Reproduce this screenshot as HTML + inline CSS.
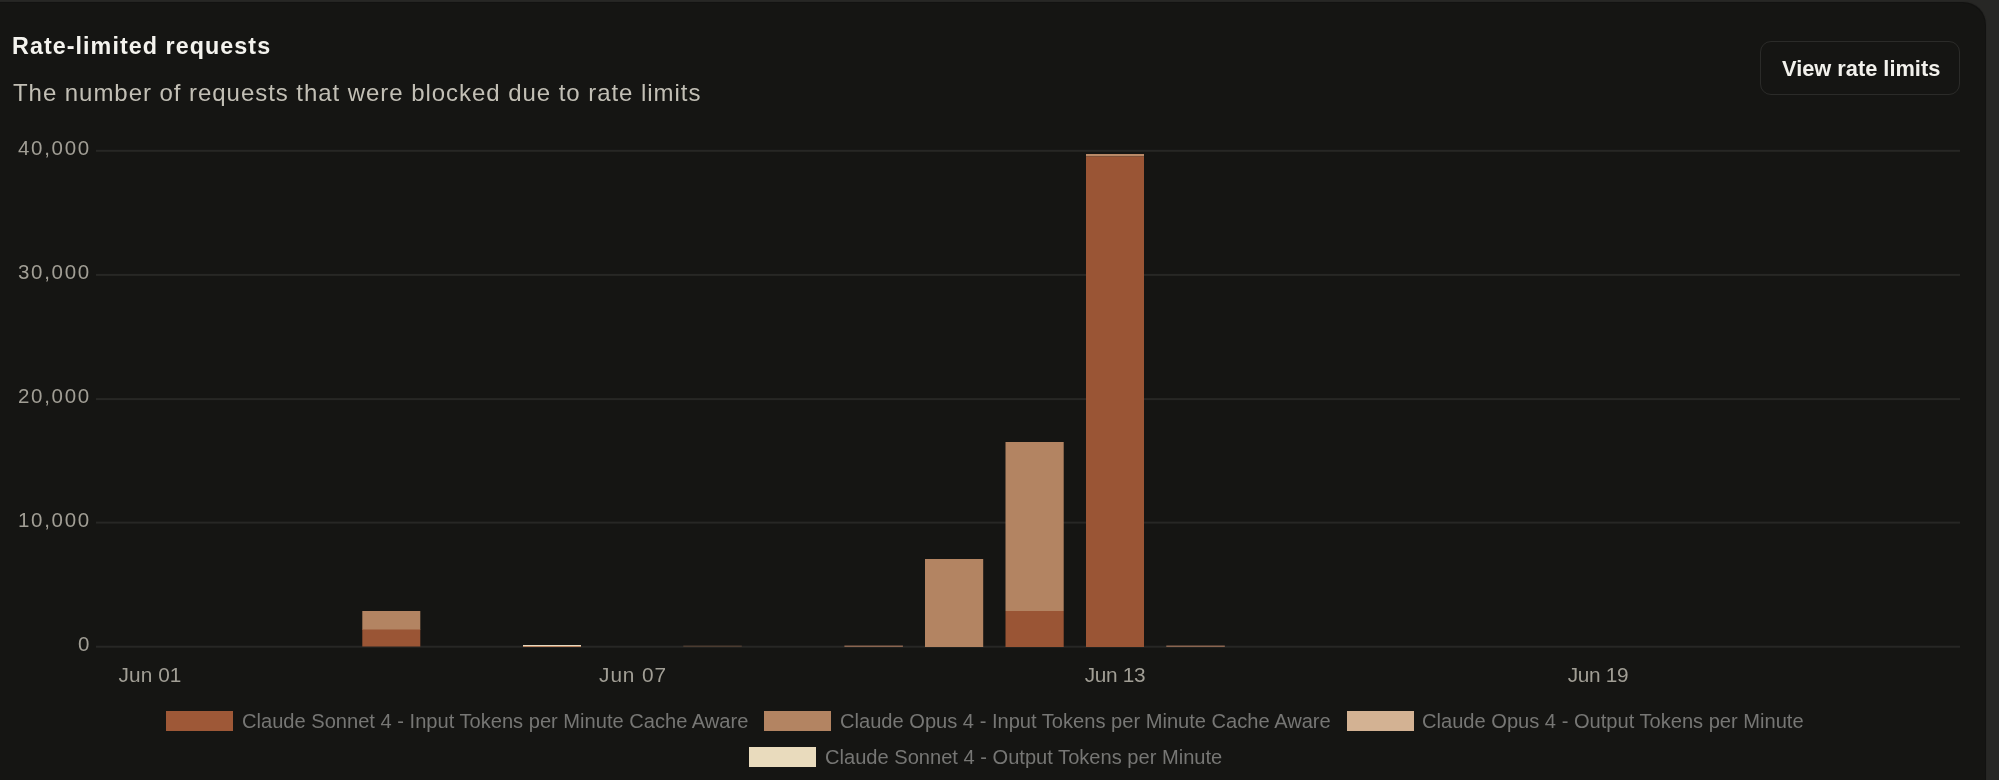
<!DOCTYPE html>
<html><head><meta charset="utf-8">
<style>
html,body{margin:0;padding:0;width:1999px;height:780px;overflow:hidden;background:#272725;}
body{position:relative;font-family:"Liberation Sans",sans-serif;}
.card{position:absolute;left:-30px;top:2.5px;width:2014.5px;height:820px;background:#151513;border-radius:22px;box-shadow:0 0 0.8px 0.5px #121211;}
.t{position:absolute;white-space:nowrap;line-height:1;will-change:transform;}
#title{left:12px;top:35px;font-size:23.3px;font-weight:700;color:#f4f3ee;letter-spacing:1.06px;}
#sub{left:13px;top:80.5px;font-size:24px;color:#c2bfb5;letter-spacing:0.95px;}
#btn{position:absolute;left:1760px;top:41px;width:200px;height:54px;border:1px solid #2b2b29;border-radius:11px;box-sizing:border-box;}
#btntxt{left:1782px;top:58px;font-size:21.8px;font-weight:700;color:#f2f1ec;}
.yl{font-size:20.5px;color:#a19e95;letter-spacing:1.7px;text-align:right;}
.xl{font-size:20.8px;color:#a19e95;letter-spacing:0.9px;width:120px;text-align:center;}
.lg{font-size:20.1px;color:#767674;}
.sw{position:absolute;width:66.5px;height:20px;}
svg{position:absolute;left:0;top:0;}
</style></head>
<body>
<div class="card"></div>
<div class="t" id="title">Rate-limited requests</div>
<div class="t" id="sub">The number of requests that were blocked due to rate limits</div>
<div id="btn"></div>
<div class="t" id="btntxt">View rate limits</div>

<svg width="1999" height="780" viewBox="0 0 1999 780">
  <g fill="#272725">
    <rect x="96" y="149.8" width="1864" height="2"/>
    <rect x="96" y="273.9" width="1864" height="2"/>
    <rect x="96" y="398.1" width="1864" height="2"/>
    <rect x="96" y="521.6" width="1864" height="2"/>
    <rect x="96" y="645.7" width="1864" height="2"/>
  </g>
  <!-- Jun 04 -->
  <rect x="362.3" y="611" width="58" height="19" fill="#b38462"/>
  <rect x="362.3" y="629.5" width="58" height="17" fill="#9a5535"/>
  <!-- Jun 06 -->
  <rect x="523" y="645" width="58" height="1" fill="#e6dac0"/>
  <rect x="523" y="646" width="58" height="1" fill="#b8825e"/>
  <!-- Jun 08 -->
  <rect x="683.3" y="645.5" width="58.5" height="1.5" fill="#4a3b30"/>
  <!-- Jun 10 -->
  <rect x="844.4" y="645.5" width="58.5" height="1.5" fill="#8a6550"/>
  <!-- Jun 11 -->
  <rect x="925" y="559" width="58.2" height="88" fill="#b38462"/>
  <!-- Jun 12 -->
  <rect x="1005.5" y="442" width="58.2" height="169" fill="#b38462"/>
  <rect x="1005.5" y="611" width="58.2" height="36" fill="#9a5535"/>
  <!-- Jun 13 -->
  <rect x="1086" y="154" width="58" height="2.5" fill="#b98a68"/>
  <rect x="1086" y="156.5" width="58" height="490.5" fill="#9a5535"/>
  <!-- Jun 14 -->
  <rect x="1166.3" y="645.5" width="58.5" height="1.5" fill="#8a6550"/>
</svg>

<div class="t yl" style="right:1908.5px;top:137.8px;">40,000</div>
<div class="t yl" style="right:1908.5px;top:261.9px;">30,000</div>
<div class="t yl" style="right:1908.5px;top:386.1px;">20,000</div>
<div class="t yl" style="right:1908.5px;top:510.1px;">10,000</div>
<div class="t yl" style="right:1907.5px;top:634.1px;">0</div>

<div class="t xl" style="left:90.2px;top:665px;letter-spacing:0.1px;">Jun 01</div>
<div class="t xl" style="left:572.8px;top:665px;">Jun 07</div>
<div class="t xl" style="left:1055.3px;top:665px;letter-spacing:-0.3px;">Jun 13</div>
<div class="t xl" style="left:1538.2px;top:665px;letter-spacing:-0.3px;">Jun 19</div>

<div class="sw" style="left:166px;top:711px;background:#9e5837;"></div>
<div class="t lg" style="left:242px;top:711px;">Claude Sonnet 4 - Input Tokens per Minute Cache Aware</div>
<div class="sw" style="left:764px;top:711px;background:#b38462;"></div>
<div class="t lg" style="left:840px;top:711px;">Claude Opus 4 - Input Tokens per Minute Cache Aware</div>
<div class="sw" style="left:1347px;top:711px;background:#d3b293;"></div>
<div class="t lg" style="left:1422px;top:711px;">Claude Opus 4 - Output Tokens per Minute</div>
<div class="sw" style="left:749px;top:747px;background:#e9dbbd;"></div>
<div class="t lg" style="left:825px;top:747px;">Claude Sonnet 4 - Output Tokens per Minute</div>
</body></html>
